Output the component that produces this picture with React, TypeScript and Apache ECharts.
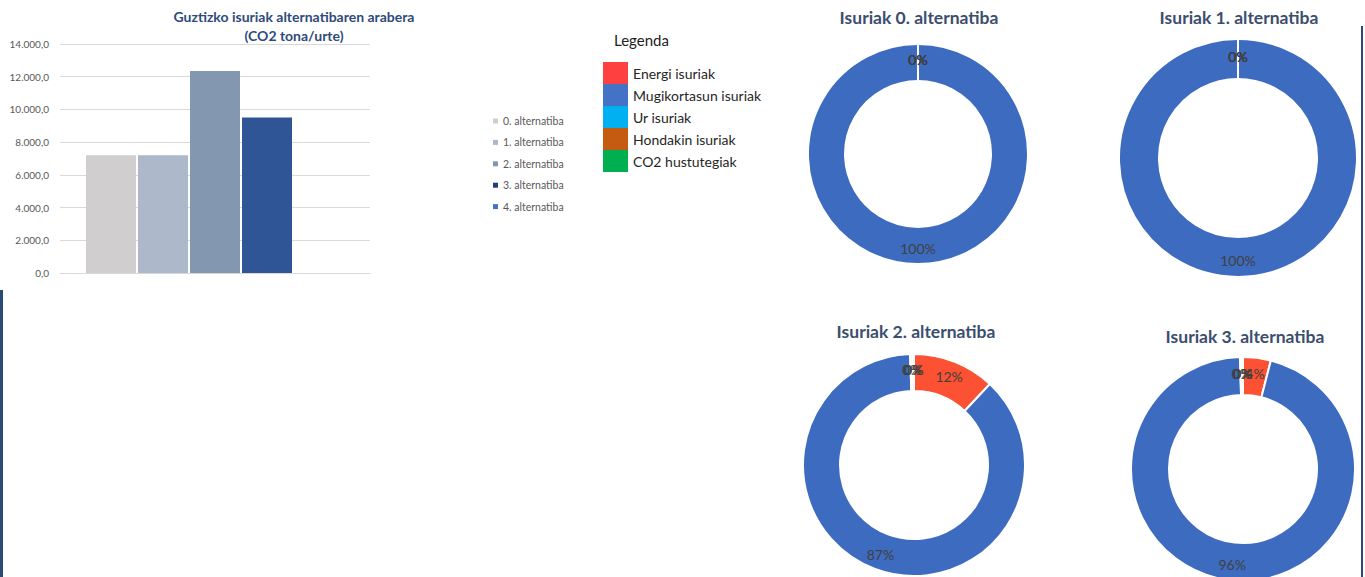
import React, { useEffect, useRef } from "react";
import * as echarts from "echarts";

// ---- Data ----
const alternatives = [
  "0. alternatiba",
  "1. alternatiba",
  "2. alternatiba",
  "3. alternatiba",
  "4. alternatiba",
];
const totalEmissions = [7200, 7200, 12350, 9500, 0];
const yMin = 0;
const yMax = 14000;
const yInterval = 2000;

const emissionTypes = [
  "Energi isuriak",
  "Mugikortasun isuriak",
  "Ur isuriak",
  "Hondakin isuriak",
  "CO2 hustutegiak",
];
const alt0Breakdown = [0, 7200, 0, 0, 0];
const alt1Breakdown = [0, 7200, 0, 0, 0];
const alt2Breakdown = [1480, 10800, 40, 30, 0];
const alt3Breakdown = [380, 9080, 25, 15, 0];

const donutTitles = [
  "Isuriak 0. alternatiba",
  "Isuriak 1. alternatiba",
  "Isuriak 2. alternatiba",
  "Isuriak 3. alternatiba",
];

const barTitle = "Guztizko isuriak alternatibaren arabera\n(CO2 tona/urte)";
const legendTitle = "Legenda";

// ---- Styles ----
const barColors = ["#d0cece", "#adb9ca", "#8497b0", "#2f5597", "#4472c4"];
const barLegendColors = ["#d0cece", "#adb9ca", "#8497b0", "#203f7a", "#4472c4"];
const pieColors = ["#fd5134", "#3d6bbf", "#00b0f0", "#c55a11", "#00b050"];
const legendSwatchColors = ["#ff4040", "#4472c4", "#00b0f0", "#c55a11", "#00b050"];
const FONT = "Lato, 'Noto Sans', sans-serif";

function fmtNum(v: number): string {
  const [i, d] = v.toFixed(1).split(".");
  return i.replace(/\B(?=(\d{3})+(?!\d))/g, ".") + "," + d;
}

export default function App() {
  const ref = useRef<HTMLDivElement>(null);

  useEffect(() => {
    if (!ref.current) return;
    const chart = echarts.init(ref.current, undefined, { renderer: "svg" });

    const breakdowns = [alt0Breakdown, alt1Breakdown, alt2Breakdown, alt3Breakdown];
    const donutLayout = [
      { center: [918, 154], radius: [73, 110], title: [919, 17] },
      { center: [1238, 158], radius: [79, 119], title: [1239, 17] },
      { center: [914, 465], radius: [74, 111], title: [916, 331] },
      { center: [1243, 469], radius: [74, 112], title: [1245, 336] },
    ];

    const barSeries = alternatives.map((name, i) => ({
      name,
      type: "bar",
      data: [totalEmissions[i]],
      barWidth: 50,
      barGap: "4%",
      itemStyle: { color: barColors[i] },
      silent: true,
    }));

    const pieSeries = breakdowns.map((b, k) => ({
      name: donutTitles[k],
      type: "pie",
      center: donutLayout[k].center,
      radius: donutLayout[k].radius,
      startAngle: 90,
      clockwise: true,
      avoidLabelOverlap: false,
      minShowLabelAngle: 0,
      silent: true,
      data: emissionTypes.map((n, i) => ({
        name: n,
        value: b[i],
        itemStyle: { color: pieColors[i] },
      })),
      itemStyle: { borderColor: "#ffffff", borderWidth: 2 },
      label: {
        show: true,
        position: "inside",
        formatter: (p: any) => Math.round(p.percent) + "%",
        fontSize: 14,
        color: "#404040",
        fontFamily: FONT,
      },
      labelLayout: { hideOverlap: false },
      labelLine: { show: false },
      emphasis: { disabled: true },
    }));

    const graphics: any[] = [
      {
        type: "text",
        x: 294,
        y: 26,
        style: {
          text: barTitle,
          align: "center",
          verticalAlign: "middle",
          fontSize: 14,
          fontWeight: "bold",
          lineHeight: 19,
          fontFamily: FONT,
          fill: "#2f4a7c",
        },
      },
      {
        type: "text",
        x: 614,
        y: 40,
        style: {
          text: legendTitle,
          align: "left",
          verticalAlign: "middle",
          fontSize: 15,
          fontFamily: FONT,
          fill: "#222222",
        },
      },
      {
        type: "rect",
        shape: { x: 0, y: 290, width: 3, height: 287 },
        style: { fill: "#2c4a78" },
      },
      {
        type: "rect",
        shape: { x: 1361, y: 26, width: 2, height: 551 },
        style: { fill: "#2c4a78" },
      },
      ...donutLayout.map((d, k) => ({
        type: "text",
        x: d.title[0],
        y: d.title[1],
        style: {
          text: donutTitles[k],
          align: "center",
          verticalAlign: "middle",
          fontSize: 17.5,
          fontWeight: "bold",
          fontFamily: FONT,
          fill: "#3b4e6e",
        },
      })),
    ];

    chart.setOption({
      animation: false,
      backgroundColor: "#ffffff",
      textStyle: { fontFamily: FONT },
      grid: { left: 60, right: 995, top: 44, bottom: 304, containLabel: false },
      xAxis: {
        type: "category",
        data: [""],
        axisLine: { show: true, lineStyle: { color: "#d9d9d9" } },
        axisTick: { show: false },
        axisLabel: { show: false },
      },
      yAxis: {
        type: "value",
        min: yMin,
        max: yMax,
        interval: yInterval,
        axisLine: { show: false },
        axisTick: { show: false },
        splitLine: { lineStyle: { color: "#d9d9d9", width: 1 } },
        axisLabel: {
          formatter: (v: number) => fmtNum(v),
          fontSize: 10,
          color: "#595959",
          margin: 11,
          fontFamily: FONT,
        },
      },
      legend: [
        {
          data: alternatives.map((n, i) => ({ name: n, itemStyle: { color: barLegendColors[i] } })),
          orient: "vertical",
          left: 493,
          top: 115,
          padding: 0,
          icon: "rect",
          itemWidth: 5,
          itemHeight: 5,
          itemGap: 9.4,
          selectedMode: false,
          textStyle: { fontSize: 10.5, color: "#595959", lineHeight: 12, fontFamily: FONT },
        },
        {
          data: emissionTypes.map((n, i) => ({ name: n, itemStyle: { color: legendSwatchColors[i], borderWidth: 0 } })),
          orient: "vertical",
          left: 603,
          top: 62,
          padding: 0,
          icon: "rect",
          itemWidth: 25,
          itemHeight: 22,
          itemGap: 0,
          selectedMode: false,
          textStyle: { fontSize: 14, color: "#262626", fontFamily: FONT },
        },
      ],
      series: [...barSeries, ...pieSeries],
      graphic: graphics,
    });

    return () => chart.dispose();
  }, []);

  return (
    <div
      ref={ref}
      style={{ position: "fixed", left: 0, top: 0, width: 1365, height: 577, background: "#fff" }}
    />
  );
}
